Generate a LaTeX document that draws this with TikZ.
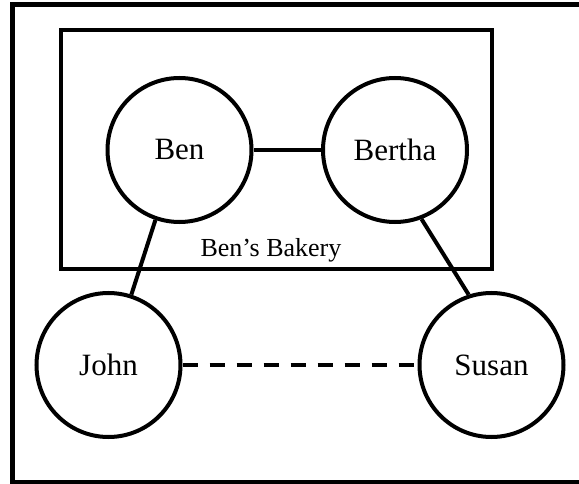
\documentclass[tikz,border=0pt]{standalone}
\usepackage{fontspec}
\setmainfont{Liberation Serif}
\begin{document}
\begin{tikzpicture}[x=1pt,y=-1pt,
  person/.style={draw, circle, line width=4pt, minimum size=144pt, inner sep=0pt, font=\fontsize{31}{37}\selectfont},
  frame/.style={draw, line width=5pt},
  group/.style={draw, line width=4pt},
  link/.style={line width=4pt},
  dashlink/.style={line width=4pt, dash pattern=on 15pt off 12pt}]
\useasboundingbox (0,0) rectangle (579,484);
\clip (0,0) rectangle (579,484);
\draw[frame] (12.5,5) rectangle (600,482.5);
\draw[group] (60.5,30) rectangle (492,269);
\node[font=\fontsize{26}{31}\selectfont, anchor=base] (bakery) at (271,256) {Ben’s Bakery};
\node[person] (ben) at (179.5,150) {Ben};
\node[person] (bertha) at (395,150) {Bertha};
\node[person] (john) at (108.5,365) {John};
\node[person] (susan) at (491.5,365) {Susan};
\draw[link] (ben) -- (bertha);
\draw[link] (ben.251) -- (john.72);
\draw[link] (bertha.291) -- (susan.108);
\draw[dashlink] (john) -- (susan);
\end{tikzpicture}
\end{document}
